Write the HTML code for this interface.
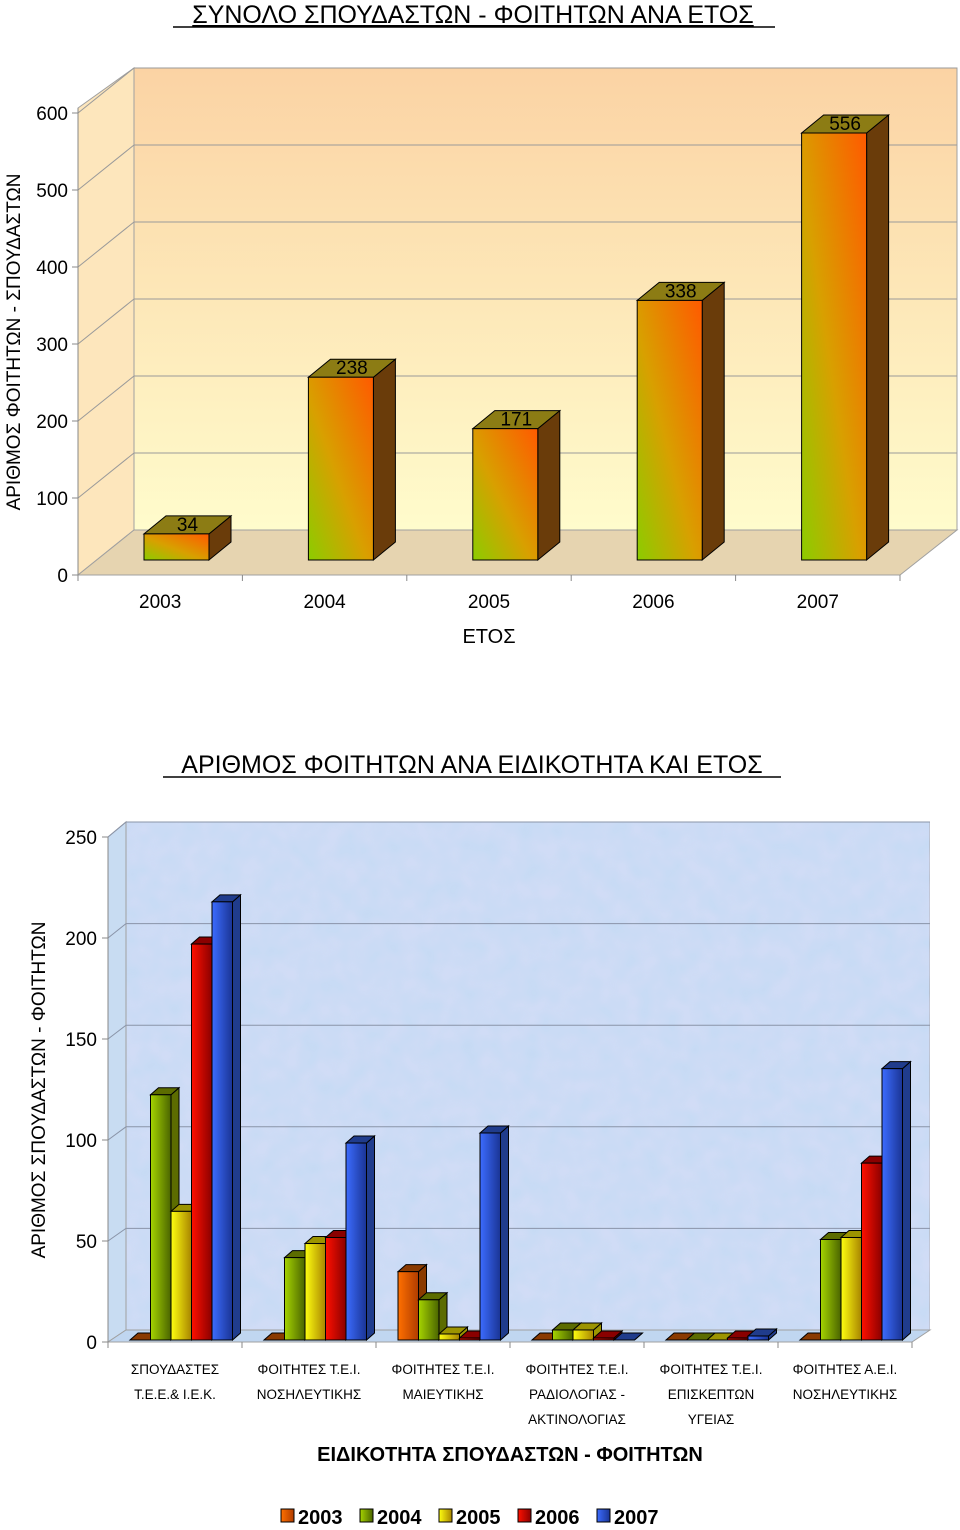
<!DOCTYPE html>
<html><head><meta charset="utf-8">
<style>
html,body{margin:0;padding:0;background:#fff;}
svg{display:block;font-family:"Liberation Sans","DejaVu Sans",sans-serif;}
</style></head>
<body>
<svg id="root" width="960" height="1530" viewBox="0 0 960 1530" xmlns="http://www.w3.org/2000/svg">
<defs>
<linearGradient id="gWall1" x1="0" y1="0" x2="0" y2="1"><stop offset="0" stop-color="#fbd3a4"/><stop offset="1" stop-color="#fffccc"/></linearGradient>
<linearGradient id="gBar1" x1="0" y1="1" x2="1" y2="0"><stop offset="0" stop-color="#8ccc00"/><stop offset="0.45" stop-color="#d8a000"/><stop offset="1" stop-color="#ff5a00"/></linearGradient>
<linearGradient id="g0" x1="0" x2="1"><stop offset="0" stop-color="#ff7000"/><stop offset="1" stop-color="#b03c00"/></linearGradient>
<linearGradient id="g1" x1="0" x2="1"><stop offset="0" stop-color="#a6d400"/><stop offset="1" stop-color="#4a6400"/></linearGradient>
<linearGradient id="g2" x1="0" x2="1"><stop offset="0" stop-color="#ffff10"/><stop offset="1" stop-color="#a88400"/></linearGradient>
<linearGradient id="g3" x1="0" x2="1"><stop offset="0" stop-color="#ff1000"/><stop offset="1" stop-color="#8a0000"/></linearGradient>
<linearGradient id="g4" x1="0" x2="1"><stop offset="0" stop-color="#3c6cff"/><stop offset="1" stop-color="#1a3494"/></linearGradient>
<filter id="tex" x="0" y="0" width="100%" height="100%"><feTurbulence type="fractalNoise" baseFrequency="0.05" numOctaves="2" seed="3"/><feColorMatrix values="0 0 0 0 0.85  0 0 0 0 0.75  0 0 0 0 0.95  0 0 0 0.35 0"/><feComposite in2="SourceGraphic" operator="in"/><feBlend in2="SourceGraphic" mode="normal"/></filter>
</defs>

<text x="473" y="23" text-anchor="middle" font-size="25" fill="#000" text-decoration="underline">ΣΥΝΟΛΟ ΣΠΟΥΔΑΣΤΩΝ - ΦΟΙΤΗΤΩΝ ΑΝΑ ΕΤΟΣ</text>
<line x1="173" y1="27" x2="775" y2="27" stroke="#000" stroke-width="1.5"/>
<text transform="translate(20,342) rotate(-90)" text-anchor="middle" font-size="19">ΑΡΙΘΜΟΣ ΦΟΙΤΗΤΩΝ - ΣΠΟΥΔΑΣΤΩΝ</text>
<g id="c1"></g>
<text x="489" y="643" text-anchor="middle" font-size="20">ΕΤΟΣ</text>

<text x="472" y="773" text-anchor="middle" font-size="25">ΑΡΙΘΜΟΣ ΦΟΙΤΗΤΩΝ ΑΝΑ ΕΙΔΙΚΟΤΗΤΑ ΚΑΙ ΕΤΟΣ</text>
<line x1="163" y1="777" x2="781" y2="777" stroke="#000" stroke-width="1.5"/>
<text transform="translate(45,1090) rotate(-90)" text-anchor="middle" font-size="19">ΑΡΙΘΜΟΣ ΣΠΟΥΔΑΣΤΩΝ - ΦΟΙΤΗΤΩΝ</text>
<g id="c2"></g>
<text x="510" y="1461" text-anchor="middle" font-size="20" font-weight="bold">ΕΙΔΙΚΟΤΗΤΑ ΣΠΟΥΔΑΣΤΩΝ - ΦΟΙΤΗΤΩΝ</text>
<g id="legend"></g>
</svg>
<script>
const years1 = ["2003","2004","2005","2006","2007"];
const totals1 = [34,238,171,338,556];
const ticks1 = [0,100,200,300,400,500,600];

const categories2 = [["ΣΠΟΥΔΑΣΤΕΣ","Τ.Ε.Ε.& Ι.Ε.Κ."],["ΦΟΙΤΗΤΕΣ Τ.Ε.Ι.","ΝΟΣΗΛΕΥΤΙΚΗΣ"],["ΦΟΙΤΗΤΕΣ Τ.Ε.Ι.","ΜΑΙΕΥΤΙΚΗΣ"],["ΦΟΙΤΗΤΕΣ Τ.Ε.Ι.","ΡΑΔΙΟΛΟΓΙΑΣ -","ΑΚΤΙΝΟΛΟΓΙΑΣ"],["ΦΟΙΤΗΤΕΣ Τ.Ε.Ι.","ΕΠΙΣΚΕΠΤΩΝ","ΥΓΕΙΑΣ"],["ΦΟΙΤΗΤΕΣ Α.Ε.Ι.","ΝΟΣΗΛΕΥΤΙΚΗΣ"]];
const seriesNames2 = ["2003","2004","2005","2006","2007"];
const s2003 = [0,0,34,0,0,0];
const s2004 = [122,41,20,5,0,50];
const s2005 = [64,48,3,5,0,51];
const s2006 = [197,51,1,1,1,88];
const s2007 = [218,98,103,0,2,135];
const ticks2 = [0,50,100,150,200,250];

const NS="http://www.w3.org/2000/svg";
function mk(parent,tag,attrs,text){const e=document.createElementNS(NS,tag);for(const k in attrs)e.setAttribute(k,attrs[k]);if(text!==undefined)e.textContent=text;parent.appendChild(e);return e;}

// ---------- Chart 1 ----------
const c1=document.getElementById('c1');
const max1=600, b1Front=560, scale1=(560-133)/556;
const yBar1=v=>b1Front-v*scale1;
const yBack1=v=>530-v*(462/max1);
const yLeft1=v=>575-v*(462/max1);
let e;
e=mk(c1,'rect',{x:134,y:68,width:823,height:462,fill:'url(#gWall1)',stroke:'#a0a0a0'});

e=mk(c1,'polygon',{points:'78,108 134,68 134,530 78,575',fill:'#fde6bc',stroke:'#a0a0a0'});

e=mk(c1,'polygon',{points:'78,575 134,530 957,530 900,575',fill:'#e6d4b0',stroke:'#a0a0a0'});

ticks1.forEach(t=>{
  if(t>0){
    e=mk(c1,'polyline',{points:`78,${yLeft1(t)} 134,${yBack1(t)} 957,${yBack1(t)}`,fill:'none',stroke:'#9a9a9a','stroke-width':1});
    
  }
  mk(c1,'line',{x1:72,y1:yLeft1(t),x2:78,y2:yLeft1(t),stroke:'#888'});
  e=mk(c1,'text',{x:68,y:yLeft1(t)+7,'text-anchor':'end','font-size':19},String(t));
  
});
mk(c1,'line',{x1:78,y1:108,x2:78,y2:575,stroke:'#888'});
const slot1=(900-78)/years1.length;
years1.forEach((y,i)=>{
  const x0=78+slot1*i;
  mk(c1,'line',{x1:x0,y1:575,x2:x0,y2:581,stroke:'#888'});
  e=mk(c1,'text',{x:x0+slot1/2,y:608,'text-anchor':'middle','font-size':19},y);
  
});
mk(c1,'line',{x1:900,y1:575,x2:900,y2:581,stroke:'#888'});
const w1=65,dx1=22,dy1=18;
totals1.forEach((v,i)=>{
  const x=78+slot1*i+66, yt=yBar1(v);
  const g=mk(c1,'g',{});
  
  mk(g,'polygon',{points:`${x+w1},${yt} ${x+w1+dx1},${yt-dy1} ${x+w1+dx1},${b1Front-dy1} ${x+w1},${b1Front}`,fill:'#6a3c0a',stroke:'#000','stroke-width':1});
  mk(g,'polygon',{points:`${x},${yt} ${x+dx1},${yt-dy1} ${x+w1+dx1},${yt-dy1} ${x+w1},${yt}`,fill:'#8c7c14',stroke:'#000','stroke-width':1});
  mk(g,'rect',{x:x,y:yt,width:w1,height:b1Front-yt,fill:'url(#gBar1)',stroke:'#000','stroke-width':1});
  e=mk(c1,'text',{x:x+w1/2+dx1/2,y:yt-3,'text-anchor':'middle','font-size':19},String(v));
  
});

// ---------- Chart 2 ----------
const c2=document.getElementById('c2');
const max2=250;
const yBar2=v=>1340-v*2.01;
const yBack2=v=>1330-v*(508/max2);
const yLeft2=v=>1342-v*(505/max2);
e=mk(c2,'rect',{x:126,y:822,width:804,height:508,fill:'#c4daf4',stroke:'#a0a0a0',filter:'url(#tex)'});

e=mk(c2,'polygon',{points:'108,837 126,822 126,1330 108,1342',fill:'#c8dcf2',stroke:'#a0a0a0'});

e=mk(c2,'polygon',{points:'108,1342 126,1330 930,1330 912,1342',fill:'#c0d6f0',stroke:'#a0a0a0'});

ticks2.forEach(t=>{
  if(t>0){
    e=mk(c2,'polyline',{points:`108,${yLeft2(t)} 126,${yBack2(t)} 930,${yBack2(t)}`,fill:'none',stroke:'#8a94a8','stroke-width':1});
    
  }
  mk(c2,'line',{x1:102,y1:yLeft2(t),x2:108,y2:yLeft2(t),stroke:'#888'});
  e=mk(c2,'text',{x:97,y:yLeft2(t)+7,'text-anchor':'end','font-size':19},String(t));
  
});
mk(c2,'line',{x1:108,y1:837,x2:108,y2:1342,stroke:'#888'});
const series2=[s2003,s2004,s2005,s2006,s2007];
const tops=['#8a3a00','#5c6c00','#9c9400','#8a0000','#203c8c'];
const slot2=(912-108)/categories2.length;
const bw=20.5,dx2=8,dy2=7;
categories2.forEach((cat,ci)=>{
  const gx=108+slot2*ci;
  mk(c2,'line',{x1:gx,y1:1342,x2:gx,y2:1348,stroke:'#888'});
  cat.forEach((ln,li)=>{
    e=mk(c2,'text',{x:gx+slot2/2,y:1374+li*25,'text-anchor':'middle','font-size':13.5},ln);
    
  });
  series2.forEach((s,si)=>{
    const v=s[ci], x=gx+22+si*bw, yt=yBar2(v), yb=yBar2(0);
    const g=mk(c2,'g',{});
    
    mk(g,'polygon',{points:`${x+bw},${yt} ${x+bw+dx2},${yt-dy2} ${x+bw+dx2},${yb-dy2} ${x+bw},${yb}`,fill:tops[si],stroke:'#000','stroke-width':1});
    mk(g,'polygon',{points:`${x},${yt} ${x+dx2},${yt-dy2} ${x+bw+dx2},${yt-dy2} ${x+bw},${yt}`,fill:tops[si],stroke:'#000','stroke-width':1});
    if(v>0) mk(g,'rect',{x:x,y:yt,width:bw,height:yb-yt,fill:`url(#g${si})`,stroke:'#000','stroke-width':1});
  });
});
mk(c2,'line',{x1:912,y1:1342,x2:912,y2:1348,stroke:'#888'});

// legend
const lg=document.getElementById('legend');
seriesNames2.forEach((n,i)=>{
  const x=281+i*79;
  const g=mk(lg,'g',{});
  
  mk(g,'rect',{x:x,y:1509,width:13,height:13,fill:`url(#g${i})`,stroke:'#000'});
  mk(g,'text',{x:x+17,y:1524,'font-size':20,'font-weight':'bold'},n);
});
</script>
</body></html>
